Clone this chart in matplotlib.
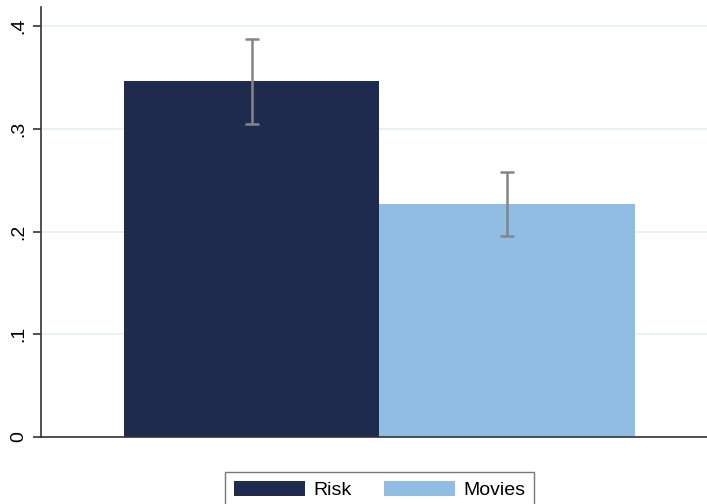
import matplotlib
matplotlib.use("Agg")
import matplotlib.pyplot as plt
from matplotlib.patches import Patch

plt.rcParams['font.family'] = ['Liberation Sans', 'DejaVu Sans']

groups = ["Risk", "Movies"]
means = [0.3465, 0.227]
ci_low = [0.3043, 0.1956]
ci_high = [0.3877, 0.2576]
colors = ["#1f2b4e", "#8fbde4"]
yticks = [0, 0.1, 0.2, 0.3, 0.4]
yticklabels = ["0", ".1", ".2", ".3", ".4"]

fig = plt.figure(figsize=(7.07, 5.04), dpi=100)
ax = fig.add_axes([41 / 707, 1 - 437 / 504, 1 - 41 / 707, (437 - 7) / 504])

xpos = list(range(len(groups)))
ax.bar(xpos, means, width=1.0, color=colors, zorder=2)
for x, lo, hi, m in zip(xpos, ci_low, ci_high, means):
    ax.errorbar([x], [m], yerr=[[m - lo], [hi - m]], fmt='none',
                ecolor="#858585", elinewidth=1.8, capsize=5, capthick=1.8, zorder=3)

ax.set_xlim(-0.825, 1.782)
ax.set_ylim(0, 0.4185)
ax.set_yticks(yticks)
ax.set_yticklabels(yticklabels, rotation=90, va='center', fontsize=14)
ax.set_xticks([])
ax.yaxis.grid(True, color="#e8f0f2", linewidth=1.2, zorder=0)
ax.set_axisbelow(True)
for s in ("top", "right"):
    ax.spines[s].set_visible(False)
for s in ("left", "bottom"):
    ax.spines[s].set_color("#333333")
    ax.spines[s].set_linewidth(1.2)
ax.tick_params(axis='y', length=5.8, width=1.2, color="#333333", pad=4)

handles = [Patch(facecolor=c, edgecolor='none') for c in colors]
leg = fig.legend(handles, groups, loc='upper center', bbox_to_anchor=(0.537, 1 - 472 / 504),
                 ncol=2, fontsize=14, frameon=True, fancybox=False, borderaxespad=0,
                 handlelength=3.66, handleheight=0.82, columnspacing=1.7,
                 handletextpad=0.41, borderpad=0.46)
leg.get_frame().set_edgecolor("#555555")
leg.get_frame().set_linewidth(1.0)

fig.savefig("out.png", dpi=100, facecolor="white")
